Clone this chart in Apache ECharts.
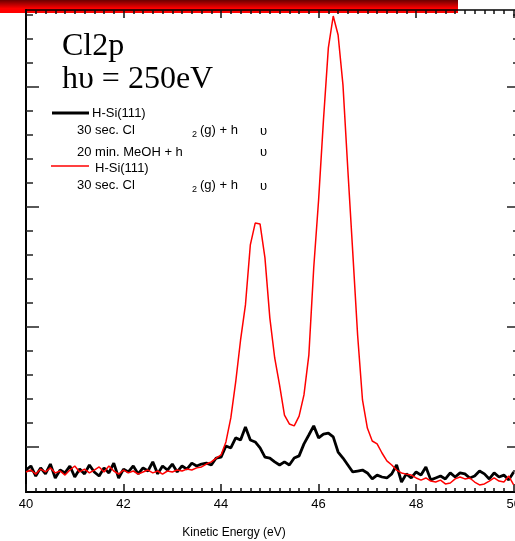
<!DOCTYPE html>
<html>
<head>
<meta charset="utf-8">
<script src="https://cdn.jsdelivr.net/npm/echarts@6/dist/echarts.min.js"></script>
<style>
    html, body { margin: 0; padding: 0; background: #fff; }
    #chart { width: 515px; height: 541px; }
</style>
</head>
<body>
<div id="chart"></div>
<script>
// kinetic energy grid (eV)
var energies = [
    40.0, 40.1, 40.2, 40.3, 40.4, 40.5, 40.6, 40.7, 40.8, 40.9,
    41.0, 41.1, 41.2, 41.3, 41.4, 41.5, 41.6, 41.7, 41.8, 41.9,
    42.0, 42.1, 42.2, 42.3, 42.4, 42.5, 42.6, 42.7, 42.8, 42.9,
    43.0, 43.1, 43.2, 43.3, 43.4, 43.5, 43.6, 43.7, 43.8, 43.9,
    44.0, 44.1, 44.2, 44.3, 44.4, 44.5, 44.6, 44.7, 44.8, 44.9,
    45.0, 45.1, 45.2, 45.3, 45.4, 45.5, 45.6, 45.7, 45.8, 45.9,
    46.0, 46.1, 46.2, 46.3, 46.4, 46.5, 46.6, 46.7, 46.8, 46.9,
    47.0, 47.1, 47.2, 47.3, 47.4, 47.5, 47.6, 47.7, 47.8, 47.9,
    48.0, 48.1, 48.2, 48.3, 48.4, 48.5, 48.6, 48.7, 48.8, 48.9,
    49.0, 49.1, 49.2, 49.3, 49.4, 49.5, 49.6, 49.7, 49.8, 49.9, 50.0
];

// H-Si(111), 30 sec. Cl2(g) + hv, 20 min. MeOH + hv  (black)
var methanolCounts = [
    1.04, 1.21, 0.79, 1.13, 0.88, 1.29, 0.71, 1.04, 0.92, 1.21,
    0.75, 1.08, 0.88, 1.25, 0.96, 0.79, 1.13, 0.92, 1.33, 0.71,
    1.08, 0.96, 1.21, 0.88, 1.13, 1.00, 1.38, 0.88, 1.21, 1.04,
    1.29, 0.96, 1.21, 1.08, 1.33, 1.21, 1.29, 1.33, 1.25, 1.54,
    1.58, 2.04, 1.96, 2.38, 2.29, 2.83, 2.29, 2.21, 1.96, 1.58,
    1.54, 1.38, 1.25, 1.38, 1.25, 1.54, 1.63, 2.13, 2.50, 2.88,
    2.38, 2.54, 2.58, 2.42, 1.79, 1.54, 1.25, 0.96, 1.00, 1.04,
    0.92, 0.67, 0.83, 0.75, 0.71, 0.88, 1.25, 0.54, 0.88, 0.71,
    0.96, 0.83, 1.17, 0.63, 0.71, 0.79, 0.67, 0.92, 0.75, 0.92,
    0.88, 0.71, 0.79, 1.00, 0.88, 0.67, 0.92, 0.75, 0.83, 0.63, 0.96
];

// H-Si(111), 30 sec. Cl2(g) + hv  (red)
var chlorineCounts = [
    0.96, 1.04, 0.87, 1.08, 0.96, 1.13, 0.92, 1.00, 0.83, 1.04,
    1.21, 0.96, 1.08, 0.92, 1.04, 1.17, 0.96, 1.21, 1.00, 0.87,
    1.04, 0.92, 1.00, 0.87, 0.96, 1.04, 0.92, 1.00, 0.87, 1.00,
    0.96, 1.04, 1.00, 1.08, 1.04, 1.13, 1.17, 1.29, 1.38, 1.54,
    1.67, 2.21, 3.21, 4.71, 6.46, 7.92, 10.42, 11.33, 11.29, 9.88,
    7.38, 5.71, 4.58, 3.33, 2.96, 2.88, 3.29, 4.17, 5.83, 9.46,
    12.29, 15.63, 18.63, 19.96, 19.17, 17.08, 13.54, 10.13, 6.67, 3.96,
    2.79, 2.25, 2.13, 1.75, 1.42, 1.25, 1.04, 0.92, 0.87, 0.83,
    0.71, 0.62, 0.71, 0.58, 0.54, 0.62, 0.46, 0.50, 0.67, 0.75,
    0.67, 0.71, 0.54, 0.42, 0.46, 0.58, 0.71, 0.58, 0.54, 0.79, 0.42
];

var yMajorTicks = [2, 7, 12, 17];
var yMinorTicks = [1, 2, 3, 4, 5, 6, 7, 8, 9, 10, 11, 12, 13, 14, 15, 16, 17, 18, 19, 20];

var sansFont = "'Liberation Sans', Arial, sans-serif";
var serifFont = "'Liberation Serif', 'Times New Roman', serif";

function pairs(xs, ys) {
    var out = [];
    for (var i = 0; i < xs.length; i++) {
        out.push([xs[i], ys[i]]);
    }
    return out;
}

function xAxisDef(pos, step, tickLen, withLine, withLabel) {
    return {
        type: 'value',
        position: pos,
        min: 40,
        max: 50.13,
        interval: step,
        axisLine: { show: withLine, lineStyle: { color: '#000', width: pos == 'bottom' ? 2 : 1.5 } },
        axisTick: { show: true, inside: true, length: tickLen, lineStyle: { color: '#111', width: 1.5 } },
        axisLabel: {
            show: withLabel, showMaxLabel: false, margin: 6,
            color: '#000', fontSize: 13, fontFamily: sansFont
        },
        splitLine: { show: false }
    };
}

function yAxisDef(pos, ticks, tickLen, withLine) {
    return {
        type: 'value',
        position: pos,
        min: 0.125,
        max: 20.21,
        axisLine: { show: withLine, lineStyle: { color: '#000', width: 2 } },
        axisTick: { show: true, inside: true, length: tickLen, customValues: ticks, lineStyle: { color: '#222', width: 1.5 } },
        axisLabel: { show: false },
        splitLine: { show: false }
    };
}

function label(x, y, txt, size) {
    return {
        type: 'text', x: x, y: y, z: 10,
        style: {
            text: txt, fill: '#000', font: (size || 13) + 'px ' + sansFont,
            textVerticalAlign: 'middle'
        }
    };
}

function swatch(x1, x2, y, color, width) {
    return {
        type: 'line', z: 10,
        shape: { x1: x1, y1: y, x2: x2, y2: y },
        style: { stroke: color, lineWidth: width }
    };
}

var option = {
    animation: false,
    backgroundColor: '#fff',
    grid: { left: 26, top: 10, width: 494, height: 482, outerBoundsMode: 'none', containLabel: false },
    xAxis: [
        xAxisDef('bottom', 2, 8, true, true),
        xAxisDef('bottom', 0.2, 4, false, false),
        xAxisDef('top', 2, 8, true, false),
        xAxisDef('top', 0.2, 4, false, false)
    ],
    yAxis: [
        yAxisDef('left', yMajorTicks, 13, true),
        yAxisDef('left', yMinorTicks, 7, false),
        yAxisDef('right', yMajorTicks, 13, true),
        yAxisDef('right', yMinorTicks, 7, false)
    ],
    series: [
        {
            name: 'MeOH',
            type: 'line',
            showSymbol: false,
            data: pairs(energies, methanolCounts),
            lineStyle: { color: '#000', width: 2.8 }
        },
        {
            name: 'Cl2',
            type: 'line',
            showSymbol: false,
            data: pairs(energies, chlorineCounts),
            lineStyle: { color: '#ff0000', width: 1.5 }
        }
    ],
    graphic: [
        {
            type: 'rect', z: -10, silent: true,
            shape: { x: 0, y: 0, width: 458, height: 13 },
            style: {
                fill: new echarts.graphic.LinearGradient(0, 0, 0, 1, [
                    { offset: 0, color: '#6a0000' },
                    { offset: 0.65, color: '#ff0000' },
                    { offset: 1, color: '#ff0000' }
                ])
            }
        },
        {
            type: 'text', x: 62, y: 47, z: 10,
            style: { text: 'Cl2p', fill: '#000', font: '32px ' + serifFont, textVerticalAlign: 'middle' }
        },
        {
            type: 'text', x: 62, y: 80, z: 10,
            style: { text: 'h\u03c5 = 250eV', fill: '#000', font: '32px ' + serifFont, textVerticalAlign: 'middle' }
        },
        swatch(52, 89, 113, '#000', 2.8),
        label(92, 113, 'H-Si(111)'),
        label(77, 130, '30 sec. Cl'),
        label(192, 135, '2', 9),
        label(200, 130, '(g) + h'),
        label(260, 131, '\u03c5'),
        label(77, 152, '20 min. MeOH + h'),
        label(260, 152, '\u03c5'),
        swatch(51, 89, 166, '#ff0000', 1.5),
        label(95, 168, 'H-Si(111)'),
        label(77, 185, '30 sec. Cl'),
        label(192, 190, '2', 9),
        label(200, 185, '(g) + h'),
        label(260, 186, '\u03c5'),
        {
            type: 'text', x: 234, y: 533, z: 10,
            style: {
                text: 'Kinetic Energy (eV)', fill: '#000', font: '12px ' + sansFont,
                textAlign: 'center', textVerticalAlign: 'middle'
            }
        }
    ]
};

echarts.init(document.getElementById('chart')).setOption(option);
</script>
</body>
</html>
